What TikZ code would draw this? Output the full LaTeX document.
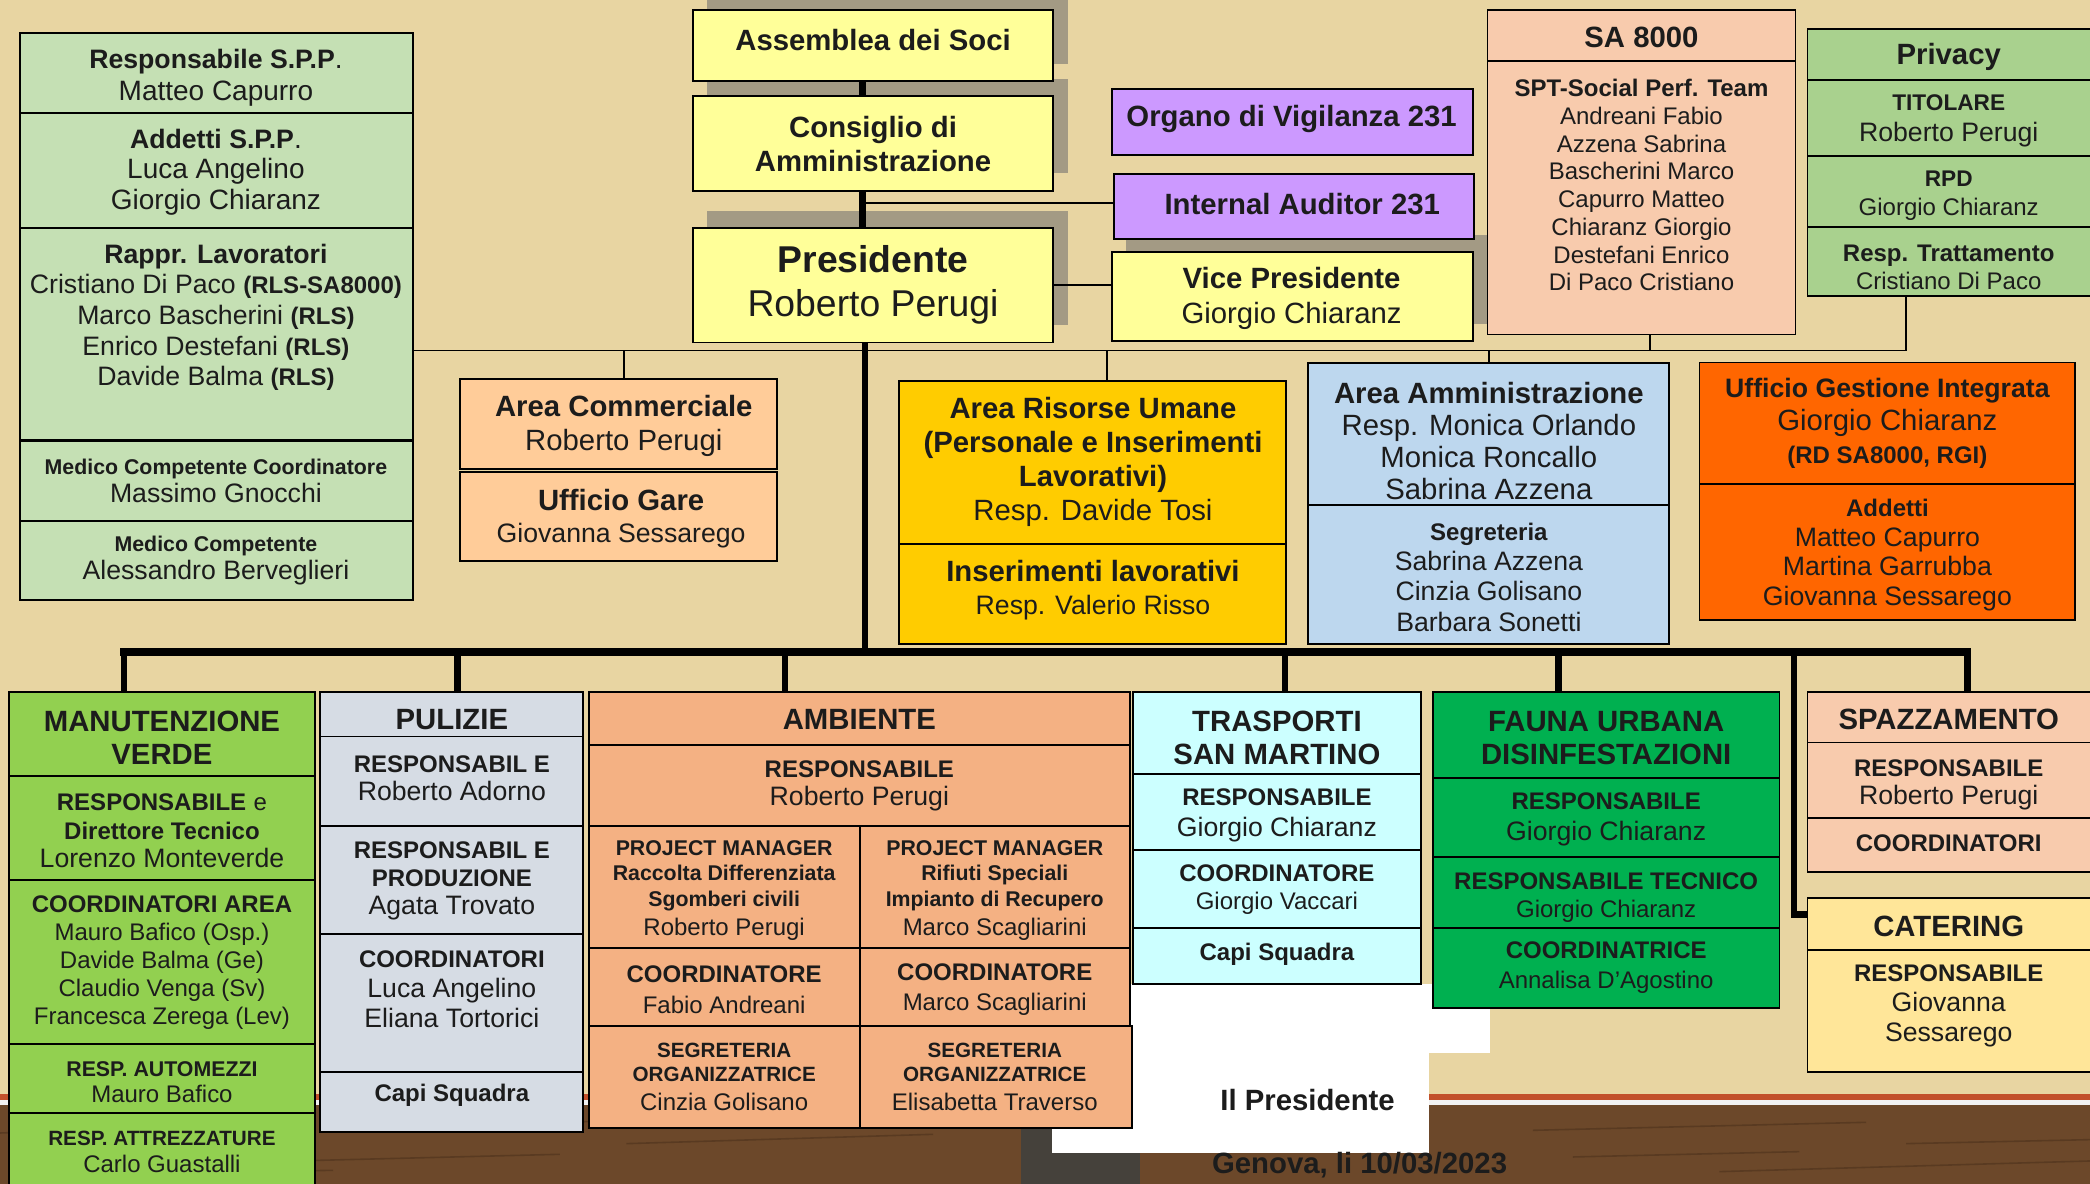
\documentclass[tikz,border=0pt]{standalone}
\usepackage{fontspec}
\setmainfont{Liberation Sans}
\usetikzlibrary{calc}

\definecolor{parch}{HTML}{E8D5A2}
\definecolor{wood}{HTML}{6C482A}
\definecolor{woodd}{HTML}{4A2F1A}
\definecolor{redline}{HTML}{C2502B}
\definecolor{shadowc}{HTML}{A39A84}
\definecolor{lgreen}{HTML}{C5E0B4}
\definecolor{yel}{HTML}{FFFF99}
\definecolor{purp}{HTML}{CC99FF}
\definecolor{peach}{HTML}{F8CBAD}
\definecolor{pgreen}{HTML}{A9D18E}
\definecolor{apricot}{HTML}{FFCC99}
\definecolor{gold}{HTML}{FFCC00}
\definecolor{lblue}{HTML}{BDD7EE}
\definecolor{orng}{HTML}{FF6600}
\definecolor{mgreen}{HTML}{92D050}
\definecolor{pgrey}{HTML}{D6DCE4}
\definecolor{amb}{HTML}{F4B183}
\definecolor{tcyan}{HTML}{CCFFFF}
\definecolor{fgreen}{HTML}{00B050}
\definecolor{cater}{HTML}{FFE699}
\definecolor{darkpatch}{HTML}{45413B}
\definecolor{ink}{HTML}{1C1C1C}

\newcommand\FS[2]{\fontsize{#1}{#2}\selectfont}
\newcommand\BF[2]{{\fontsize{#1}{#1}\selectfont\bfseries #2}}
\newcommand\RG[2]{{\fontsize{#1}{#1}\selectfont #2}}
\newcommand\mkcell[6]{\node[cell, fill=#6, minimum width={(#4-#2)*1pt}, minimum height={(#5-#3)*1pt}] (#1) at (#2,#3) {};}
\newcommand\mkshad[4]{\fill[shadowc] ({#1+11},{#2-13}) rectangle ({#3+11},{#4-13});}

\tikzset{
  cell/.style={rectangle, draw=black, line width=1.4pt, inner sep=0pt, outer sep=0pt, anchor=north west},
  thn/.style={draw=black, line width=1.4pt},
  thk/.style={draw=black, line width=5pt},
  busline/.style={draw=black, line width=6pt, line cap=rect},
  txt/.style={align=center, inner sep=0pt, outer sep=0pt, text=ink, yshift=-2pt},
}

\begin{document}
\begin{tikzpicture}[x=1pt,y=-1pt]
\useasboundingbox (0,0) rectangle (1568,888);
\begin{scope}
\clip (0,0) rectangle (1568,888);
% ---------- background ----------
\fill[parch] (0,0) rectangle (1568,888);
\fill[redline] (0,821) rectangle (1568,825);
\fill[white!95!black] (0,825) rectangle (1568,829);
\fill[wood] (0,829) rectangle (1568,888);
\foreach \xa/\ya/\xb/\yb in {0/850/210/843, 140/873/420/866, 470/858/700/851, 1150/848/1400/842,
  1290/879/1568/871, 1430/858/1568/855, 30/882/250/878, 1180/868/1350/864, 300/845/460/841}
  \draw[woodd, line width=1.2pt, opacity=.55] (\xa,\ya) -- (\xb,\yb);
\fill[darkpatch] (766,847) rectangle (855,888);
\fill[white] (789,738) rectangle (1072,865);
\fill[white] (1066,738) rectangle (1118,790);

% ---------- shadows ----------
\mkshad{519.6}{7.5}{790}{61}
\mkshad{519.6}{72}{790}{143}
\mkshad{519.6}{171}{790}{257}
\mkshad{834}{189}{1105}{256}

% ---------- left column ----------
\mkcell{rsp}{15}{25}{310}{85}{lgreen}
\mkcell{add}{15}{85}{310}{171}{lgreen}
\mkcell{rapp}{15}{171}{310}{330}{lgreen}
\mkcell{medc}{15}{331}{310}{391}{lgreen}
\mkcell{med}{15}{391}{310}{450}{lgreen}
\node[txt, font=\FS{21}{24}] (rsp-t) at (162,56) {\BF{20}{Responsabile S.P.P}.\\Matteo Capurro};
\node[txt, font=\FS{21}{23}] (add-t) at (162,127) {\BF{20}{Addetti S.P.P}.\\Luca Angelino\\Giorgio Chiaranz};
\node[txt, font=\FS{20}{23}] (rapp-t) at (162,236) {\BF{20}{Rappr. Lavoratori}\\Cristiano Di Paco \BF{18}{(RLS-SA8000)}\\Marco Bascherini \BF{18}{(RLS)}\\Enrico Destefani \BF{18}{(RLS)}\\Davide Balma \BF{18}{(RLS)}};
\node[txt, font=\FS{20}{21}] (medc-t) at (162,358.5) {\BF{16}{Medico Competente Coordinatore}\\Massimo Gnocchi};
\node[txt, font=\FS{20}{21}] (med-t) at (162,418.5) {\BF{16}{Medico Competente}\\Alessandro Berveglieri};

% ---------- top centre ----------
\mkcell{asse}{519.6}{7.5}{790}{61}{yel}
\mkcell{cons}{519.6}{72}{790}{143}{yel}
\mkcell{pres}{519.6}{171}{790}{257}{yel}
\node[txt, font={\FS{22}{26}\bfseries}] (asse-t) at (655,28) {Assemblea dei Soci};
\node[txt, font={\FS{22}{26}\bfseries}] (cons-t) at (655,106) {Consiglio di\\Amministrazione};
\node[txt, font=\FS{28}{33}] (pres-t) at (655,211.5) {\textbf{Presidente}\\Roberto Perugi};

\mkcell{org}{834}{67}{1105}{116}{purp}
\mkcell{ia}{836}{130.5}{1106}{179.5}{purp}
\mkcell{vice}{834}{189}{1105}{256}{yel}
\node[txt, font={\FS{22}{26}\bfseries}] (org-t) at (969,87) {Organo di Vigilanza 231};
\node[txt, font={\FS{22}{26}\bfseries}] (ia-t) at (977,151) {Internal Auditor 231};
\node[txt, font=\FS{22}{26}] (vice-t) at (969,222) {\textbf{Vice Presidente}\\Giorgio Chiaranz};

% ---------- SA 8000 ----------
\mkcell{sah}{1116}{7.5}{1347}{46}{peach}
\mkcell{sab}{1116}{46}{1347}{251}{peach}
\node[txt, font={\FS{22}{26}\bfseries}] (sah-t) at (1231.5,26) {SA 8000};
\node[txt, font=\FS{18}{20.8}] (sab-t) at (1231.5,137) {\textbf{SPT-Social Perf. Team}\\Andreani Fabio\\Azzena Sabrina\\Bascherini Marco\\Capurro Matteo\\Chiaranz Giorgio\\Destefani Enrico\\Di Paco Cristiano};

% ---------- Privacy ----------
\mkcell{prh}{1356}{22}{1576}{60}{pgreen}
\mkcell{pr1}{1356}{60}{1576}{117}{pgreen}
\mkcell{pr2}{1356}{117}{1576}{170.5}{pgreen}
\mkcell{pr3}{1356}{170.5}{1576}{222}{pgreen}
\node[txt, font={\FS{22}{26}\bfseries}] (prh-t) at (1462,41) {Privacy};
\node[txt, font=\FS{20}{23}] (pr1-t) at (1462,88.5) {\BF{17}{TITOLARE}\\Roberto Perugi};
\node[txt, font=\FS{18}{22}] (pr2-t) at (1462,145) {\BF{17}{RPD}\\Giorgio Chiaranz};
\node[txt, font=\FS{18}{21}] (pr3-t) at (1462,198.5) {\textbf{Resp. Trattamento}\\Cristiano Di Paco};

% ---------- middle row ----------
\mkcell{com}{345}{284.5}{583}{352}{apricot}
\mkcell{gare}{345}{354}{583}{421}{apricot}
\node[txt, font=\FS{22}{25}] (com-t) at (468,317.5) {\textbf{Area Commerciale}\\Roberto Perugi};
\node[txt, font=\FS{22}{24}] (gare-t) at (466,387) {\textbf{Ufficio Gare}\\\RG{20}{Giovanna Sessarego}};

\mkcell{ru}{674.5}{286}{965}{408}{gold}
\mkcell{ins}{674.5}{408}{965}{483}{gold}
\node[txt, font=\FS{22}{25.7}] (ru-t) at (820,344.5) {\textbf{Area Risorse Umane}\\\textbf{(Personale e Inserimenti}\\\textbf{Lavorativi)}\\Resp. Davide Tosi};
\node[txt, font=\FS{22}{25}] (ins-t) at (820,440.5) {\textbf{Inserimenti lavorativi}\\\RG{20}{Resp. Valerio Risso}};

\mkcell{amm}{981}{272.5}{1252}{379}{lblue}
\mkcell{seg}{981}{379}{1252}{483}{lblue}
\node[txt, font=\FS{22}{24}] (amm-t) at (1117,329) {\textbf{Area Amministrazione}\\Resp. Monica Orlando\\Monica Roncallo\\Sabrina Azzena};
\node[txt, font=\FS{20}{22.7}] (seg-t) at (1117,431) {\BF{18}{Segreteria}\\Sabrina Azzena\\Cinzia Golisano\\Barbara Sonetti};

\mkcell{ugi}{1275}{272}{1557}{363}{orng}
\mkcell{ugia}{1275}{363}{1557}{465}{orng}
\node[txt, font=\FS{22}{24.5}] (ugi-t) at (1416,315.5) {\BF{20}{Ufficio Gestione Integrata}\\Giorgio Chiaranz\\\BF{18}{(RD SA8000, RGI)}};
\node[txt, font=\FS{20}{22.3}] (ugia-t) at (1416,414.5) {\BF{18}{Addetti}\\Matteo Capurro\\Martina Garrubba\\Giovanna Sessarego};

% ---------- bottom row ----------
% Manutenzione verde
\mkcell{mvh}{7}{519}{236}{582.5}{mgreen}
\mkcell{mv1}{7}{582.5}{236}{660.5}{mgreen}
\mkcell{mv2}{7}{660.5}{236}{783}{mgreen}
\mkcell{mv3}{7}{783}{236}{835}{mgreen}
\mkcell{mv4}{7}{835}{236}{895}{mgreen}
\node[txt, font={\FS{22}{25}\bfseries}] (mvh-t) at (121.5,551.5) {MANUTENZIONE\\VERDE};
\node[txt, font=\FS{20}{21.5}] (mv1-t) at (121.5,621.5) {\BF{18}{RESPONSABILE} \RG{18}{e}\\\BF{18}{Direttore Tecnico}\\Lorenzo Monteverde};
\node[txt, font=\FS{18}{21}] (mv2-t) at (121.5,720) {\textbf{COORDINATORI AREA}\\Mauro Bafico (Osp.)\\Davide Balma (Ge)\\Claudio Venga (Sv)\\Francesca Zerega (Lev)};
\node[txt, font=\FS{18}{20}] (mv3-t) at (121.5,810) {\BF{16}{RESP. AUTOMEZZI}\\Mauro Bafico};
\node[txt, font=\FS{18}{20}] (mv4-t) at (121.5,862) {\BF{15.5}{RESP. ATTREZZATURE}\\Carlo Guastalli};

% Pulizie
\mkcell{puh}{240}{519}{437.7}{552.5}{pgrey}
\mkcell{pu1}{240}{552.5}{437.7}{619.5}{pgrey}
\mkcell{pu2}{240}{619.5}{437.7}{700.5}{pgrey}
\mkcell{pu3}{240}{700.5}{437.7}{804}{pgrey}
\mkcell{pu4}{240}{804}{437.7}{849}{pgrey}
\node[txt, font={\FS{22}{25}\bfseries}] (puh-t) at (339,538) {PULIZIE};
\node[txt, font=\FS{20}{21}] (pu1-t) at (339,581.5) {\BF{18}{RESPONSABIL E}\\Roberto Adorno};
\node[txt, font=\FS{20}{21}] (pu2-t) at (339,659) {\BF{18}{RESPONSABIL E}\\\BF{18}{PRODUZIONE}\\Agata Trovato};
\node[txt, font=\FS{20}{22.5}] (pu3-t) at (339,740.5) {\BF{18}{COORDINATORI}\\Luca Angelino\\Eliana Tortorici};
\node[txt, font={\FS{18}{21}\bfseries}] (pu4-t) at (339,820) {Capi Squadra};

% Ambiente
\mkcell{amh}{441.7}{519}{847.7}{559}{amb}
\mkcell{amr}{441.7}{559}{847.7}{619.5}{amb}
\mkcell{pm1}{441.7}{619.5}{645}{711}{amb}
\mkcell{pm2}{645}{619.5}{847.7}{711}{amb}
\mkcell{co1}{441.7}{711}{645}{770}{amb}
\mkcell{co2}{645}{711}{847.7}{770}{amb}
\mkcell{se1}{441.7}{770}{645}{846}{amb}
\mkcell{se2}{645}{770}{849}{846}{amb}
\node[txt, font={\FS{22}{25}\bfseries}] (amh-t) at (644.7,538) {AMBIENTE};
\node[txt, font=\FS{20}{21}] (amr-t) at (644.7,587.5) {\BF{18}{RESPONSABILE}\\Roberto Perugi};
\node[txt, font=\FS{18}{19}] (pm1-t) at (543.3,666) {\BF{16}{PROJECT MANAGER}\\\BF{16}{Raccolta Differenziata}\\\BF{16}{Sgomberi civili}\\[3pt]Roberto Perugi};
\node[txt, font=\FS{18}{19}] (pm2-t) at (746.3,666) {\BF{16}{PROJECT MANAGER}\\\BF{16}{Rifiuti Speciali}\\\BF{16}{Impianto di Recupero}\\[3pt]Marco Scagliarini};
\node[txt, font=\FS{18}{23}] (co1-t) at (543.3,740.5) {\textbf{COORDINATORE}\\Fabio Andreani};
\node[txt, font=\FS{18}{23}] (co2-t) at (746.3,740.5) {\textbf{COORDINATORE}\\Marco Scagliarini};
\node[txt, font=\FS{18}{18}] (se1-t) at (543.3,806) {\BF{15.5}{SEGRETERIA}\\\BF{15.5}{ORGANIZZATRICE}\\[4pt]Cinzia Golisano};
\node[txt, font=\FS{18}{18}] (se2-t) at (746.3,806) {\BF{15.5}{SEGRETERIA}\\\BF{15.5}{ORGANIZZATRICE}\\[4pt]Elisabetta Traverso};

% Trasporti
\mkcell{trh}{850}{519}{1066}{581}{tcyan}
\mkcell{tr1}{850}{581}{1066}{637.5}{tcyan}
\mkcell{tr2}{850}{637.5}{1066}{696}{tcyan}
\mkcell{tr3}{850}{696}{1066}{738}{tcyan}
\node[txt, font={\FS{22}{25}\bfseries}] (trh-t) at (958,551.5) {TRASPORTI\\SAN MARTINO};
\node[txt, font=\FS{20}{23}] (tr1-t) at (958,609.5) {\BF{18}{RESPONSABILE}\\Giorgio Chiaranz};
\node[txt, font=\FS{18}{21}] (tr2-t) at (958,665.5) {\textbf{COORDINATORE}\\Giorgio Vaccari};
\node[txt, font={\FS{18}{21}\bfseries}] (tr3-t) at (958,714) {Capi Squadra};

% Fauna urbana
\mkcell{fah}{1075}{519}{1335}{584}{fgreen}
\mkcell{fa1}{1075}{584}{1335}{643}{fgreen}
\mkcell{fa2}{1075}{643}{1335}{696}{fgreen}
\mkcell{fa3}{1075}{696}{1335}{756}{fgreen}
\node[txt, font={\FS{22}{25}\bfseries}] (fah-t) at (1205,551.5) {FAUNA URBANA\\DISINFESTAZIONI};
\node[txt, font=\FS{20}{23}] (fa1-t) at (1205,612.5) {\BF{18}{RESPONSABILE}\\Giorgio Chiaranz};
\node[txt, font=\FS{18}{21}] (fa2-t) at (1205,671.5) {\textbf{RESPONSABILE TECNICO}\\Giorgio Chiaranz};
\node[txt, font=\FS{18}{22}] (fa3-t) at (1205,724) {\textbf{COORDINATRICE}\\Annalisa D'Agostino};

% Spazzamento
\mkcell{sph}{1356}{519}{1576}{557}{peach}
\mkcell{sp1}{1356}{557}{1576}{614}{peach}
\mkcell{sp2}{1356}{614}{1576}{654}{peach}
\node[txt, font={\FS{22}{25}\bfseries}] (sph-t) at (1462,538) {SPAZZAMENTO};
\node[txt, font=\FS{20}{21}] (sp1-t) at (1462,586.5) {\BF{18}{RESPONSABILE}\\Roberto Perugi};
\node[txt, font={\FS{18}{21}\bfseries}] (sp2-t) at (1462,631) {COORDINATORI};

% Catering
\mkcell{cah}{1356}{674}{1576}{712.5}{cater}
\mkcell{ca1}{1356}{712.5}{1576}{804}{cater}
\node[txt, font={\FS{22}{25}\bfseries}] (cah-t) at (1462,693) {CATERING};
\node[txt, font=\FS{20}{22.5}] (ca1-t) at (1462,752.5) {\BF{18}{RESPONSABILE}\\Giovanna\\Sessarego};

% signature
\node[txt, font={\FS{22}{26}\bfseries}] (firma) at (981,823) {Il Presidente};
\node[txt, font={\FS{22}{26}\bfseries}] (data) at (1020,872) {Genova, li 10/03/2023};

% ---------- connectors ----------
\coordinate (trA) at (647,0);
\coordinate (trB) at (649,0);
\coordinate (iaj) at (647,152.5);
\coordinate (hl) at (0,263);
\coordinate (busL) at (93,489);
\coordinate (busR) at (1476,489);
\draw[thk] (asse.south -| trA) -- (cons.north -| trA);
\draw[thk] (cons.south -| trA) -- (pres.north -| trA);
\draw[thk] (pres.south -| trB) -- (trB |- busL);
\draw[thn] (iaj) -- (iaj -| ia.west);
\draw[thn] (pres.east) -- (pres.east -| vice.west);

\coordinate (xCom) at (468,263);
\coordinate (xRU) at (830.5,263);
\coordinate (xAmm) at (1117,263);
\coordinate (xSA) at (1238,263);
\coordinate (xPr) at (1430,263);
\draw[thn] (rapp.east |- hl) -- (xPr);
\draw[thn] (xCom) -- (xCom |- com.north);
\draw[thn] (xRU) -- (xRU |- ru.north);
\draw[thn] (xAmm) -- (xAmm |- amm.north);
\draw[thn] (xSA) -- (xSA |- sab.south);
\draw[thn] (xPr) -- (xPr |- pr3.south);

\draw[busline] (busL) -- (busR);
\coordinate (dPu) at (343,489);
\coordinate (dAm) at (589,489);
\coordinate (dTr) at (964,489);
\coordinate (dFa) at (1169,489);
\coordinate (dCa) at (1346,489);
\coordinate (caj) at (1346,686);
\draw[thk] (busL) -- (busL |- mvh.north);
\draw[thk] (dPu) -- (dPu |- puh.north);
\draw[thk] (dAm) -- (dAm |- amh.north);
\draw[thk] (dTr) -- (dTr |- trh.north);
\draw[thk] (dFa) -- (dFa |- fah.north);
\draw[thk] (busR) -- (busR |- sph.north);
\draw[thk, line join=miter] (dCa) -- (caj) -- (caj -| cah.west);
\end{scope}
\end{tikzpicture}
\end{document}
